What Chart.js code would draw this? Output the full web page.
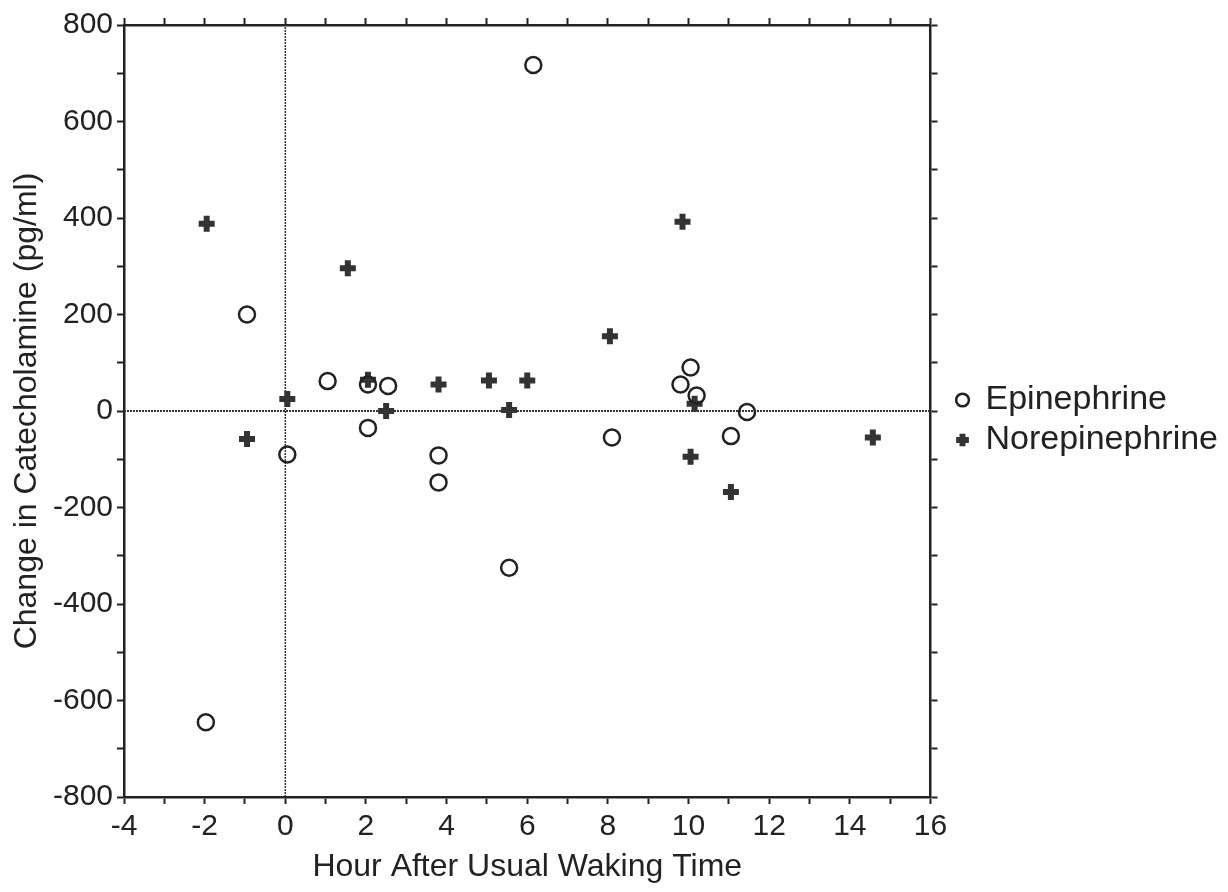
<!DOCTYPE html>
<html>
<head>
<meta charset="utf-8">
<title>Catecholamine change vs waking time</title>
<script src="https://cdn.jsdelivr.net/npm/chart.js@4/dist/chart.umd.min.js"></script>
<style>
  html, body { margin: 0; padding: 0; background: #ffffff; }
  #wrap { width: 1228px; height: 892px; }
</style>
</head>
<body>
<div id="wrap"><canvas id="chart" width="1228" height="892"></canvas></div>
<script>
// hours after usual waking time, and change in epinephrine (pg/ml):
const epiHours = [6.15, -0.95, 1.05, 2.05, 2.55, 2.05, 0.05, 3.8, 3.8, 5.55, 8.1, 10.05, 9.8, 10.2, 11.45, 11.05, -1.97];
const epiChange = [717, 200, 62, 55, 52, -35, -90, -92, -148, -325, -55, 90, 55, 32, -2, -52, -645];

// same for norepinephrine:
const norHours = [-1.95, 1.55, 0.05, -0.95, 2.05, 2.5, 3.8, 5.05, 5.55, 6.0, 8.05, 9.85, 10.15, 10.05, 11.05, 14.57];
const norChange = [388, 296, 25, -58, 65, 0, 55, 63, 2, 63, 155, 392, 15, -95, -168, -55];

// axis ranges:
const hourRange = [-4, 16];
const changeRange = [-800, 800];

const ink = '#222222';
const fontFamily = '"Liberation Sans", Arial, Helvetica, sans-serif';

// turn two arrays into {x, y} points:
function toPoints(xs, ys) {
  let pts = [];
  for (let i = 0; i < xs.length; i++) {
    pts.push({ x: xs[i], y: ys[i] });
  }
  return pts;
}

// tick marks on every step, labels only on every other one:
function everyOther(step) {
  return function (value) {
    return (Math.round(value / step) % 2 === 0) ? String(value) : '';
  };
}

// common settings for a frame side:
function frameGrid() {
  return {
    display: true,
    drawOnChartArea: false,
    drawTicks: true,
    tickLength: 7,
    tickWidth: 2,
    tickColor: ink
  };
}

const data = {
  datasets: [{
    label: 'Epinephrine',
    data: toPoints(epiHours, epiChange),
    pointStyle: 'circle',
    pointRadius: 8,
    pointBorderWidth: 2.5,
    borderColor: ink,
    backgroundColor: 'rgba(0,0,0,0)',
    pointBackgroundColor: 'rgba(0,0,0,0)',
    borderWidth: 2.5
  }, {
    label: 'Norepinephrine',
    data: toPoints(norHours, norChange),
    pointStyle: 'cross',
    pointRadius: 8,
    pointBorderWidth: 6,
    borderColor: '#333333',
    backgroundColor: '#333333',
    borderWidth: 5
  }, {
    // dotted reference line at hour 0:
    type: 'line',
    label: '',
    data: [{ x: 0, y: changeRange[0] }, { x: 0, y: changeRange[1] }],
    borderColor: '#333333',
    borderWidth: 1.5,
    borderDash: [2, 1],
    pointRadius: 0,
    fill: false
  }, {
    // dotted reference line at zero change:
    type: 'line',
    label: '',
    data: [{ x: hourRange[0], y: 0 }, { x: hourRange[1], y: 0 }],
    borderColor: '#333333',
    borderWidth: 2,
    borderDash: [2, 1],
    pointRadius: 0,
    fill: false
  }]
};

const config = {
  type: 'scatter',
  data: data,
  options: {
    responsive: false,
    animation: false,
    layout: {
      padding: { top: 0, left: 0, bottom: 0, right: 0 }
    },
    plugins: {
      tooltip: { enabled: false },
      legend: {
        position: 'right',
        align: 'center',
        fullSize: false,
        maxWidth: 320,
        // an empty title just nudges the entries down a little:
        title: {
          display: true,
          text: ' ',
          font: { size: 10 },
          padding: 3
        },
        labels: {
          usePointStyle: true,
          boxWidth: 12,
          boxHeight: 9,
          padding: 6,
          color: ink,
          font: { family: fontFamily, size: 34 },
          // hide the reference lines from the legend:
          filter: function (item) { return item.text !== ''; }
        }
      }
    },
    scales: {
      x: {
        type: 'linear',
        position: 'bottom',
        min: hourRange[0],
        max: hourRange[1],
        ticks: {
          stepSize: 1,
          autoSkip: false,
          maxRotation: 0,
          padding: 5,
          color: ink,
          font: { family: fontFamily, size: 30 },
          callback: everyOther(1)
        },
        grid: frameGrid(),
        border: { display: true, width: 2.5, color: ink },
        title: {
          display: true,
          text: 'Hour After Usual Waking Time',
          color: ink,
          font: { family: fontFamily, size: 32 },
          padding: { top: 0, bottom: 6 }
        },
        afterFit: function (scale) { scale.height = 95; }
      },
      xTop: {
        type: 'linear',
        position: 'top',
        min: hourRange[0],
        max: hourRange[1],
        ticks: { stepSize: 1, display: false },
        grid: frameGrid(),
        border: { display: true, width: 2.5, color: ink },
        afterFit: function (scale) { scale.height = 25; }
      },
      y: {
        type: 'linear',
        position: 'left',
        min: changeRange[0],
        max: changeRange[1],
        ticks: {
          stepSize: 100,
          autoSkip: false,
          padding: 4,
          color: ink,
          font: { family: fontFamily, size: 30 },
          callback: everyOther(100)
        },
        grid: frameGrid(),
        border: { display: true, width: 2.5, color: ink },
        title: {
          display: true,
          text: 'Change in Catecholamine (pg/ml)',
          color: ink,
          font: { family: fontFamily, size: 32 },
          padding: { top: 8, bottom: 0 }
        },
        afterFit: function (scale) { scale.width = 124; }
      },
      yRight: {
        type: 'linear',
        position: 'right',
        min: changeRange[0],
        max: changeRange[1],
        ticks: { stepSize: 100, display: false },
        grid: frameGrid(),
        border: { display: true, width: 2.5, color: ink },
        afterFit: function (scale) { scale.width = 20; }
      }
    }
  }
};

// make the chart:
const chart = new Chart(document.getElementById('chart'), config);
</script>
</body>
</html>
